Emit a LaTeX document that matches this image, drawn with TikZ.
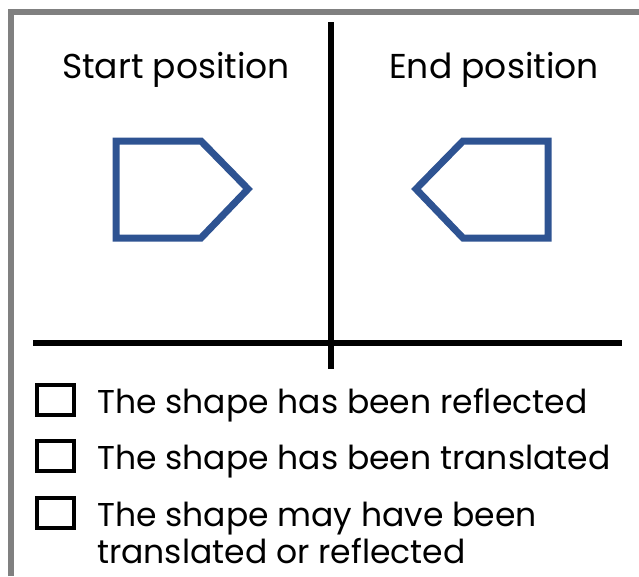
\documentclass[tikz,border=0pt]{standalone}
\usepackage{fontspec}
\setmainfont{Poppins}
\definecolor{shapeblue}{RGB}{46,83,146}
\definecolor{framegray}{RGB}{128,128,128}
\begin{document}
\begin{tikzpicture}[
		x=1pt, y=-1pt,
		every node/.style={
			inner sep=0pt,
			font=\fontsize{33}{37}\selectfont
		},
		heading/.style={anchor=base, font=\fontsize{34.5}{38}\selectfont},
		answer/.style={anchor=base west, align=left},
		tickbox/.style={draw, line width=4pt, minimum width=37pt, minimum height=30pt},
		divider/.style={line width=5.5pt},
		pentagon/.style={draw=shapeblue, line width=7pt, line join=miter}
		]
		
		\useasboundingbox (0,0) rectangle (639,576);
		\draw[framegray, line width=6pt] (11,576) -- (11,12) -- (639,12);
		
		% table lines
		\draw[divider] (331,22) -- (331,369);
		\draw[divider] (33,343) -- (622,343);
		
		\node[heading] (start) at (176,78) {Start position};
		\node[heading] (end) at (494,78) {End position};
		
		% shapes
		\draw[pentagon] (116,141) -- (201,141) -- (248,189) -- (201,238) -- (116,238) -- cycle;
		\draw[pentagon] (548,141) -- (463,141) -- (416,189) -- (463,238) -- (548,238) -- cycle;
		
		% options
		\node[tickbox] (box1) at (55.5,400) {};
		\node[tickbox] (box2) at (55.5,456) {};
		\node[tickbox] (box3) at (55.5,513) {};
		\node[answer] (opt1) at (97,413) {The shape has been reflected};
		\node[answer] (opt2) at (97,469) {The shape has been translated};
		\node[answer] (opt3) at (97,563) {The shape may have been\\translated or reflected};
	\end{tikzpicture}
\end{document}
